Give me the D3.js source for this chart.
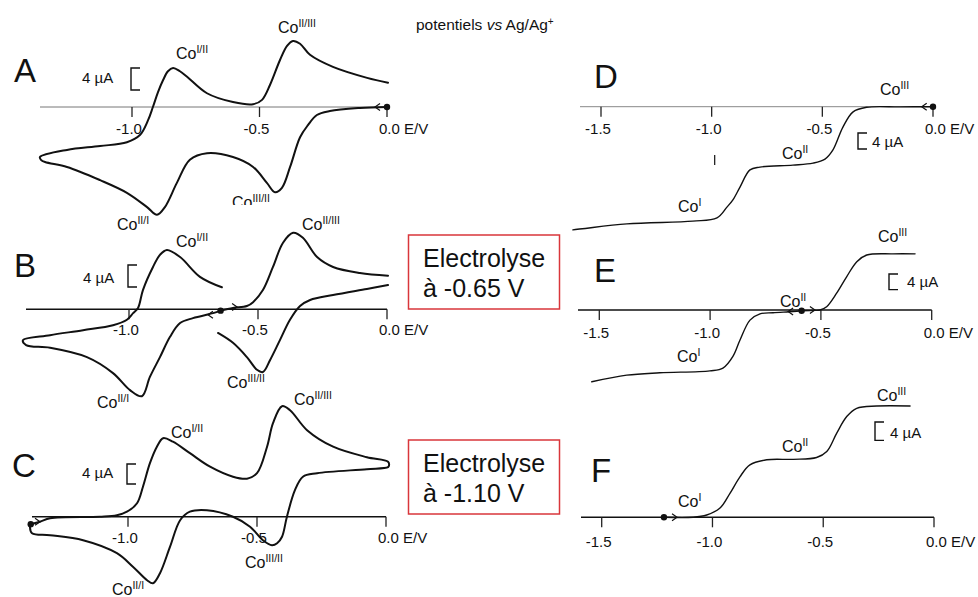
<!DOCTYPE html>
<html>
<head>
<meta charset="utf-8">
<script src="https://cdn.jsdelivr.net/npm/d3@7"></script>
<style>
html,body{margin:0;padding:0;background:#fff;}
svg{display:block;font-family:"Liberation Sans",Arial,Helvetica,sans-serif;}
</style>
</head>
<body>
<svg id="chart" width="978" height="597"></svg>
<script>
// ---------- DATA (E in V vs Ag/Ag+, I in µA) ----------
const ticksLeft = [-1.0, -0.5, 0.0];
const ticksRight = [-1.5, -1.0, -0.5, 0.0];
const tickLabels = {"-1.5": "-1.5", "-1": "-1.0", "-0.5": "-0.5", "0": "0.0 E/V"};

// Panel A : CV from 0 V to -1.36 V and back
const cvA = [
  [0,0],[-0.106,-0.18],[-0.224,-0.73],[-0.275,-1.45],[-0.31,-3.3],[-0.341,-5.5],
  [-0.38,-10.9],[-0.412,-14.7],[-0.439,-15.5],[-0.471,-13.8],[-0.525,-10.9],
  [-0.604,-9.1],[-0.706,-8.4],[-0.773,-9.6],[-0.824,-13.8],[-0.871,-18.2],
  [-0.902,-19.6],[-0.941,-18.2],[-1.02,-15.6],[-1.125,-13.3],[-1.255,-10.9],
  [-1.341,-10.0],[-1.357,-9.6],[-1.361,-9.1],[-1.255,-7.8],[-1.125,-7.1],
  [-1.02,-6.4],[-0.969,-5.1],[-0.937,-2.4],[-0.918,0],[-0.898,2.7],[-0.878,4.9],
  [-0.859,6.5],[-0.839,7.1],[-0.812,6.5],[-0.784,5.5],[-0.706,2.5],[-0.604,0.9],
  [-0.525,0.5],[-0.49,1.3],[-0.459,4.0],[-0.42,8.5],[-0.392,11.1],[-0.369,12.0],
  [-0.341,11.5],[-0.302,9.5],[-0.212,7.3],[-0.078,5.3],[0.004,4.4]
];

// Panel B : after electrolysis at -0.65 V
const cvB_oxFwd = [
  [-0.645,-0.25],[-0.597,0.24],[-0.543,0.6],[-0.519,1.3],[-0.481,3.5],[-0.442,7.7],
  [-0.403,12.1],[-0.364,13.9],[-0.326,13.0],[-0.271,9.5],[-0.209,7.7],[-0.105,6.6],
  [0.004,6.1]
];
const cvB_oxBack = [
  [0.004,4.4],[-0.078,3.7],[-0.209,2.6],[-0.298,1.7],
  [-0.337,0.6],[-0.376,-1.9],[-0.415,-5.6],[-0.453,-9.2],[-0.481,-11.4],
  [-0.504,-11.0],[-0.543,-8.7],[-0.597,-6.1],[-0.655,-4.3]
];
const cvB_red = [
  [-0.645,-0.25],[-0.674,-0.7],[-0.752,-1.6],[-0.802,-2.5],[-0.841,-5.0],[-0.88,-8.7],
  [-0.919,-12.3],[-0.95,-15.8],[-0.996,-14.7],[-1.062,-11.6],[-1.163,-8.7],
  [-1.306,-7.0],[-1.399,-6.5],[-1.411,-5.6],[-1.306,-4.7],[-1.178,-3.8],
  [-1.062,-2.9],[-1.008,-1.9],[-0.984,-0.7],[-0.965,0.24],[-0.946,3.5],
  [-0.907,7.7],[-0.88,9.9],[-0.853,10.8],[-0.802,9.5],[-0.725,5.9],[-0.64,4.0]
];

// Panel C : after electrolysis at -1.10 V, scan from -1.38 V to 0 V and back
const cvC = [
  [-1.377,-1.5],[-1.341,-1.0],[-1.302,-0.3],[-1.109,0],[-1.043,0.3],[-1.004,1.0],
  [-0.965,2.7],[-0.942,6.0],[-0.915,10.7],[-0.888,14.0],[-0.864,15.7],[-0.826,15.0],
  [-0.76,12.7],[-0.682,10.0],[-0.593,8.0],[-0.539,7.6],[-0.5,8.7],[-0.461,14.0],
  [-0.438,18.7],[-0.403,22.1],[-0.372,21.3],[-0.306,17.3],[-0.205,14.0],
  [-0.074,11.9],[0.008,11.0],[0.012,10.3],[0.008,9.9],[-0.074,9.5],[-0.267,8.7],
  [-0.322,8.0],[-0.353,5.3],[-0.384,0],[-0.403,-4.0],[-0.422,-5.3],[-0.442,-5.7],
  [-0.477,-4.7],[-0.527,-2.0],[-0.593,0],[-0.694,1.3],[-0.76,1.0],[-0.798,-0.7],
  [-0.837,-6.0],[-0.876,-11.3],[-0.903,-13.3],[-0.926,-12.7],[-0.981,-10.0],
  [-1.043,-7.3],[-1.174,-4.7],[-1.302,-3.7],[-1.372,-3.3],[-1.38,-2.1]
];

// Panel D : rotating electrode voltammogram, initial solution
const rdeD = [
  [0,0],[-0.149,-0.05],[-0.3,-0.15],[-0.361,-1.3],[-0.407,-5.1],[-0.452,-10.8],
  [-0.488,-13.1],[-0.542,-14.1],[-0.633,-14.6],[-0.782,-15.1],[-0.827,-15.8],
  [-0.872,-20.1],[-0.904,-23.3],[-0.931,-25.1],[-0.976,-27.8],[-1.085,-28.6],
  [-1.383,-29.3],[-1.627,-30.8]
];

// Panel E : after electrolysis at -0.65 V
const rdeE_ox = [
  [-0.587,-0.2],[-0.527,-0.1],[-0.504,0],[-0.474,0.85],[-0.429,4.3],[-0.384,8.5],
  [-0.338,12.4],[-0.293,14.1],[-0.175,14.4],[-0.075,14.4]
];
const rdeE_red = [
  [-0.587,-0.2],[-0.626,-0.4],[-0.716,-0.7],[-0.775,-1.0],[-0.82,-2.6],[-0.865,-7.7],
  [-0.897,-11.9],[-0.942,-14.9],[-1.001,-15.6],[-1.227,-16.1],[-1.376,-16.7],
  [-1.534,-18.4]
];

// Panel F : after electrolysis at -1.10 V
const rdeF = [
  [-1.219,0],[-1.087,0],[-1.026,0.5],[-0.966,2.0],[-0.921,5.2],[-0.876,8.8],
  [-0.831,11.4],[-0.755,12.5],[-0.635,12.6],[-0.53,13.0],[-0.484,14.3],
  [-0.439,18.3],[-0.394,21.9],[-0.349,23.7],[-0.259,24.2],[-0.108,24.2]
];

// start points (E, I) and scan-direction chevrons (E, I, direction)
const startA = [0, 0], startB = [-0.645, -0.25], startC = [-1.377, -1.5];
const startD = [0, 0], startE = [-0.587, -0.2], startF = [-1.219, 0];
const arrowsA = [[-0.047, 0, -1]];
const arrowsB = [[-0.581, 0.4, 1], [-0.694, -1.0, -1]];
const arrowsC = [[-1.341, -1.0, 1]];
const arrowsD = [[-0.051, 0, -1]];
const arrowsE = [[-0.648, -0.4, -1], [-0.527, 0, 1]];
const arrowsF = [[-1.16, 0, 1]];

const scaleBarValue = 4; // µA

// ---------- DRAWING ----------
const svg = d3.select("#chart");

function coLabel(g, x, y, sup) {
  const t = g.append("text").attr("x", x).attr("y", y)
    .attr("font-size", 16).attr("fill", "#111");
  t.append("tspan").text("Co");
  t.append("tspan").attr("dy", -6).attr("font-size", 10.5).text(sup);
  return t;
}

function panel(cfg) {
  const g = svg.append("g");
  const x = d3.scaleLinear().domain(cfg.xDomain).range(cfg.xRange);
  const y = d3.scaleLinear().domain([0, scaleBarValue]).range([cfg.y0, cfg.y0 - cfg.barPx]);
  g.append("line").attr("x1", cfg.axisStart).attr("x2", x(0))
    .attr("y1", y(0)).attr("y2", y(0))
    .attr("stroke", cfg.axisColor).attr("stroke-width", cfg.axisWidth);
  cfg.ticks.forEach(t => {
    g.append("line").attr("x1", x(t)).attr("x2", x(t))
      .attr("y1", y(0)).attr("y2", y(0) + 10)
      .attr("stroke", "#222").attr("stroke-width", 1.3);
    g.append("text")
      .attr("x", t === 0 ? x(t) - 8 : x(t) - 3)
      .attr("y", y(0) + cfg.labelDy)
      .attr("text-anchor", t === 0 ? "start" : "middle")
      .attr("font-size", 15).attr("fill", "#111")
      .text(tickLabels[String(t)]);
  });
  const line = d3.line().x(d => x(d[0])).y(d => y(d[1]))
    .curve(d3.curveCatmullRom.alpha(0.5));
  cfg.curves.forEach(c => {
    g.append("path").attr("d", line(c)).attr("fill", "none")
      .attr("stroke", "#111").attr("stroke-width", cfg.curveWidth)
      .attr("stroke-linejoin", "round").attr("stroke-linecap", "round");
  });
  g.append("circle").attr("cx", x(cfg.start[0])).attr("cy", y(cfg.start[1]))
    .attr("r", 3.2).attr("fill", "#111");
  cfg.arrows.forEach(a => {
    const ax = x(a[0]), ay = y(a[1]), d = a[2];
    g.append("path")
      .attr("d", `M${ax - d * 5},${ay - 3.5} L${ax},${ay} L${ax - d * 5},${ay + 3.5}`)
      .attr("fill", "none").attr("stroke", "#111").attr("stroke-width", 1.2);
  });
  const bx = cfg.bar[0], bTop = cfg.bar[1];
  const h = y(0) - y(scaleBarValue);
  g.append("path")
    .attr("d", `M${bx + 9},${bTop} L${bx},${bTop} L${bx},${bTop + h} L${bx + 9},${bTop + h}`)
    .attr("fill", "none").attr("stroke", "#111").attr("stroke-width", 1.4);
  g.append("text").attr("x", cfg.barText[0]).attr("y", cfg.barText[1])
    .attr("font-size", 15).attr("fill", "#111").text(scaleBarValue + " µA");
  g.append("text").attr("x", cfg.letterPos[0]).attr("y", cfg.letterPos[1])
    .attr("font-size", 33).attr("fill", "#111").text(cfg.letter);
  cfg.labels.forEach(l => {
    const t = coLabel(g, l[0], l[1], l[2]);
    if (l[3]) t.attr("clip-path", l[3]);
  });
  return {g, x, y};
}

svg.append("defs").append("clipPath").attr("id", "clipA")
  .append("rect").attr("x", 0).attr("y", 0).attr("width", 978).attr("height", 205);

panel({
  letter: "A", letterPos: [14, 82],
  xDomain: [-1, 0], xRange: [132, 387], y0: 107, barPx: 22,
  axisStart: 40, axisColor: "#777", axisWidth: 1, labelDy: 27,
  ticks: ticksLeft, curves: [cvA], curveWidth: 2,
  start: startA, arrows: arrowsA,
  bar: [131, 68], barText: [82, 83],
  labels: [[176, 59, "I/II"], [278, 33, "II/III"], [117, 230, "II/I"], [232, 208, "III/II", "url(#clipA)"]]
});
panel({
  letter: "B", letterPos: [14, 277],
  xDomain: [-1, 0], xRange: [129, 387], y0: 309.3, barPx: 22,
  axisStart: 26, axisColor: "#111", axisWidth: 1.5, labelDy: 26,
  ticks: ticksLeft, curves: [cvB_oxFwd, cvB_oxBack, cvB_red], curveWidth: 2,
  start: startB, arrows: arrowsB,
  bar: [128, 265], barText: [83, 283],
  labels: [[176, 247, "I/II"], [302, 230, "II/III"], [227, 388, "III/II"], [97, 408, "II/I"]]
});
panel({
  letter: "C", letterPos: [12, 477],
  xDomain: [-1, 0], xRange: [128, 386], y0: 516.7, barPx: 20,
  axisStart: 32, axisColor: "#111", axisWidth: 1.5, labelDy: 26,
  ticks: ticksLeft, curves: [cvC], curveWidth: 2,
  start: startC, arrows: arrowsC,
  bar: [127, 464], barText: [82, 478],
  labels: [[171, 438, "I/II"], [294, 405, "II/III"], [245, 568, "III/II"], [112, 595, "II/I"]]
});
const pD = panel({
  letter: "D", letterPos: [594, 88],
  xDomain: [-1.5, 0], xRange: [601, 933], y0: 106.7, barPx: 16,
  axisStart: 580, axisColor: "#888", axisWidth: 1, labelDy: 27,
  ticks: ticksRight, curves: [rdeD], curveWidth: 1.4,
  start: startD, arrows: arrowsD,
  bar: [858, 133], barText: [872, 147],
  labels: [[880, 95, "III"], [782, 159, "II"], [678, 212, "I"]]
});
pD.g.append("line").attr("x1", pD.x(-1) + 3).attr("x2", pD.x(-1) + 3)
  .attr("y1", 155).attr("y2", 165).attr("stroke", "#222").attr("stroke-width", 1.3);

panel({
  letter: "E", letterPos: [594, 282],
  xDomain: [-1.5, 0], xRange: [599.3, 931.7], y0: 310, barPx: 15.6,
  axisStart: 578, axisColor: "#111", axisWidth: 1.5, labelDy: 28,
  ticks: ticksRight, curves: [rdeE_ox, rdeE_red], curveWidth: 1.4,
  start: startE, arrows: arrowsE,
  bar: [889, 274], barText: [907, 287],
  labels: [[878, 242, "III"], [780, 307, "II"], [677, 362, "I"]]
});
panel({
  letter: "F", letterPos: [591, 482],
  xDomain: [-1.5, 0], xRange: [601.7, 934], y0: 517.3, barPx: 18.4,
  axisStart: 581, axisColor: "#111", axisWidth: 1.5, labelDy: 30,
  ticks: ticksRight, curves: [rdeF], curveWidth: 1.4,
  start: startF, arrows: arrowsF,
  bar: [875, 422], barText: [890, 438],
  labels: [[877, 401, "III"], [782, 452, "II"], [678, 507, "I"]]
});

const note = svg.append("text").attr("x", 416).attr("y", 30)
  .attr("font-size", 15.5).attr("fill", "#111");
note.append("tspan").text("potentiels ");
note.append("tspan").attr("font-style", "italic").text("vs");
note.append("tspan").text(" Ag/Ag");
note.append("tspan").attr("dy", -5).attr("font-size", 10).text("+");

const boxes = [["à -0.65 V", 235], ["à -1.10 V", 440]];
boxes.forEach(b => {
  svg.append("rect").attr("x", 408.5).attr("y", b[1]).attr("width", 151).attr("height", 74)
    .attr("fill", "#fff").attr("stroke", "#d9363b").attr("stroke-width", 1.5);
  svg.append("text").attr("x", 423).attr("y", b[1] + 32).attr("font-size", 25)
    .attr("fill", "#111").text("Electrolyse");
  svg.append("text").attr("x", 423).attr("y", b[1] + 62).attr("font-size", 25)
    .attr("fill", "#111").text(b[0]);
});
</script>
</body>
</html>
